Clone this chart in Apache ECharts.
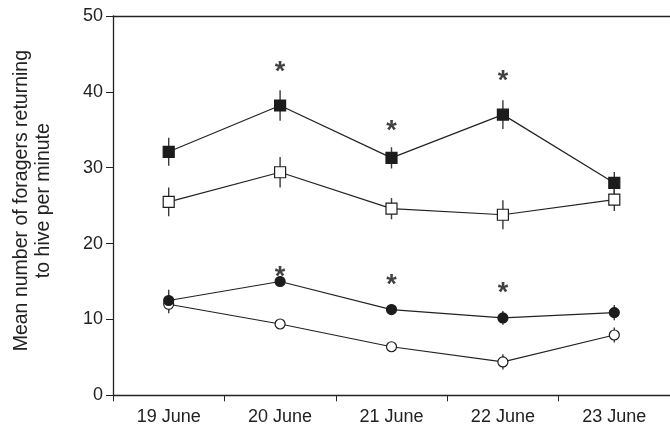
<!DOCTYPE html>
<html>
<head>
<meta charset="utf-8">
<script src="https://cdn.jsdelivr.net/npm/echarts@6/dist/echarts.min.js"></script>
<style>html,body{margin:0;padding:0;background:#fff;}#c{width:670px;height:434px;}</style>
</head>
<body>
<div id="c"></div>
<script>
const dates = ['19 June', '20 June', '21 June', '22 June', '23 June'];
const yTicks = [0, 10, 20, 30, 40, 50];
const filledSq = [32.1, 38.2, 31.3, 37.0, 28.0];
const filledSqErr = [1.85, 2.0, 1.4, 1.9, 1.45];
const openSq = [25.5, 29.4, 24.6, 23.8, 25.8];
const openSqErr = [1.9, 2.0, 1.4, 1.9, 1.5];
const filledCi = [12.5, 15.0, 11.3, 10.2, 10.9];
const filledCiErr = [1.4, 0.5, 0.4, 0.9, 1.0];
const openCi = [12.0, 9.4, 6.4, 4.4, 7.95];
const openCiErr = [1.2, 0.3, 0.3, 1.0, 1.0];
const starDates = ['20 June', '21 June', '22 June', '20 June', '21 June', '22 June'];
const starValues = [43.4, 35.5, 42.1, 16.3, 15.2, 14.25];

const FONT = '"Liberation Sans", Arial, sans-serif';
const INK = '#222';

function errSeries(vals, errs) {
  return {
    type: 'custom',
    z: 1,
    silent: true,
    data: vals.map((v, i) => [i, v, errs[i]]),
    renderItem: function (params, api) {
      const x = api.value(0), v = api.value(1), e = api.value(2);
      const a = api.coord([x, v + e]);
      const b = api.coord([x, v - e]);
      return { type: 'line', shape: { x1: a[0], y1: a[1], x2: b[0], y2: b[1] },
               style: { stroke: '#3a3a3a', lineWidth: 1.4 } };
    }
  };
}
function lineSeries(vals, symbol, filled, size) {
  return {
    type: 'line', z: 3, data: vals, symbol: symbol, symbolSize: size,
    showAllSymbol: true,
    lineStyle: { color: INK, width: 1.2 },
    itemStyle: { color: filled ? '#1c1c1c' : '#ffffff', borderColor: '#1c1c1c', borderWidth: 1.2, opacity: 1 }
  };
}

const chart = echarts.init(document.getElementById('c'), null, { renderer: 'canvas' });
chart.setOption({
  animation: false,
  backgroundColor: '#fff',
  grid: { left: 113, top: 16, width: 562.5, height: 379.3, containLabel: false },
  xAxis: [{
    type: 'category', data: dates, boundaryGap: true, position: 'bottom',
    axisLine: { show: true, lineStyle: { color: INK, width: 1.3 } },
    axisTick: { show: true, inside: false, length: 6, alignWithLabel: false, lineStyle: { color: INK } },
    axisLabel: { color: INK, fontFamily: FONT, fontSize: 18, margin: 13 },
    splitLine: { show: false }
  }, {
    type: 'category', data: dates, position: 'top',
    axisLine: { show: true, lineStyle: { color: INK, width: 1.3 } },
    axisTick: { show: false }, axisLabel: { show: false }, splitLine: { show: false }
  }],
  yAxis: {
    type: 'value', min: yTicks[0], max: yTicks[yTicks.length - 1], interval: 10,
    name: 'Mean number of foragers returning\nto hive per minute',
    nameLocation: 'middle', nameGap: 58, nameRotate: 90,
    nameTextStyle: { color: INK, fontFamily: FONT, fontSize: 19.5, lineHeight: 22, padding: [0, 0, 0, 10] },
    axisLine: { show: true, lineStyle: { color: INK, width: 1.3 } },
    axisTick: { show: true, inside: false, length: 7, lineStyle: { color: INK } },
    axisLabel: { color: INK, fontFamily: FONT, fontSize: 18, margin: 10 },
    splitLine: { show: false }
  },
  series: [
    errSeries(filledSq, filledSqErr),
    errSeries(openSq, openSqErr),
    errSeries(filledCi, filledCiErr),
    errSeries(openCi, openCiErr),
    lineSeries(openCi, 'circle', false, 10),
    lineSeries(filledCi, 'circle', true, 10),
    lineSeries(openSq, 'rect', false, 11),
    lineSeries(filledSq, 'rect', true, 11),
    {
      type: 'scatter', z: 4, symbolSize: 0,
      data: starDates.map((d, i) => [d, starValues[i]]),
      label: { show: true, position: 'inside', formatter: '*', color: '#111',
               fontFamily: FONT, fontSize: 27, fontWeight: 'bold', offset: [0, 6] }
    }
  ]
});
</script>
</body>
</html>
